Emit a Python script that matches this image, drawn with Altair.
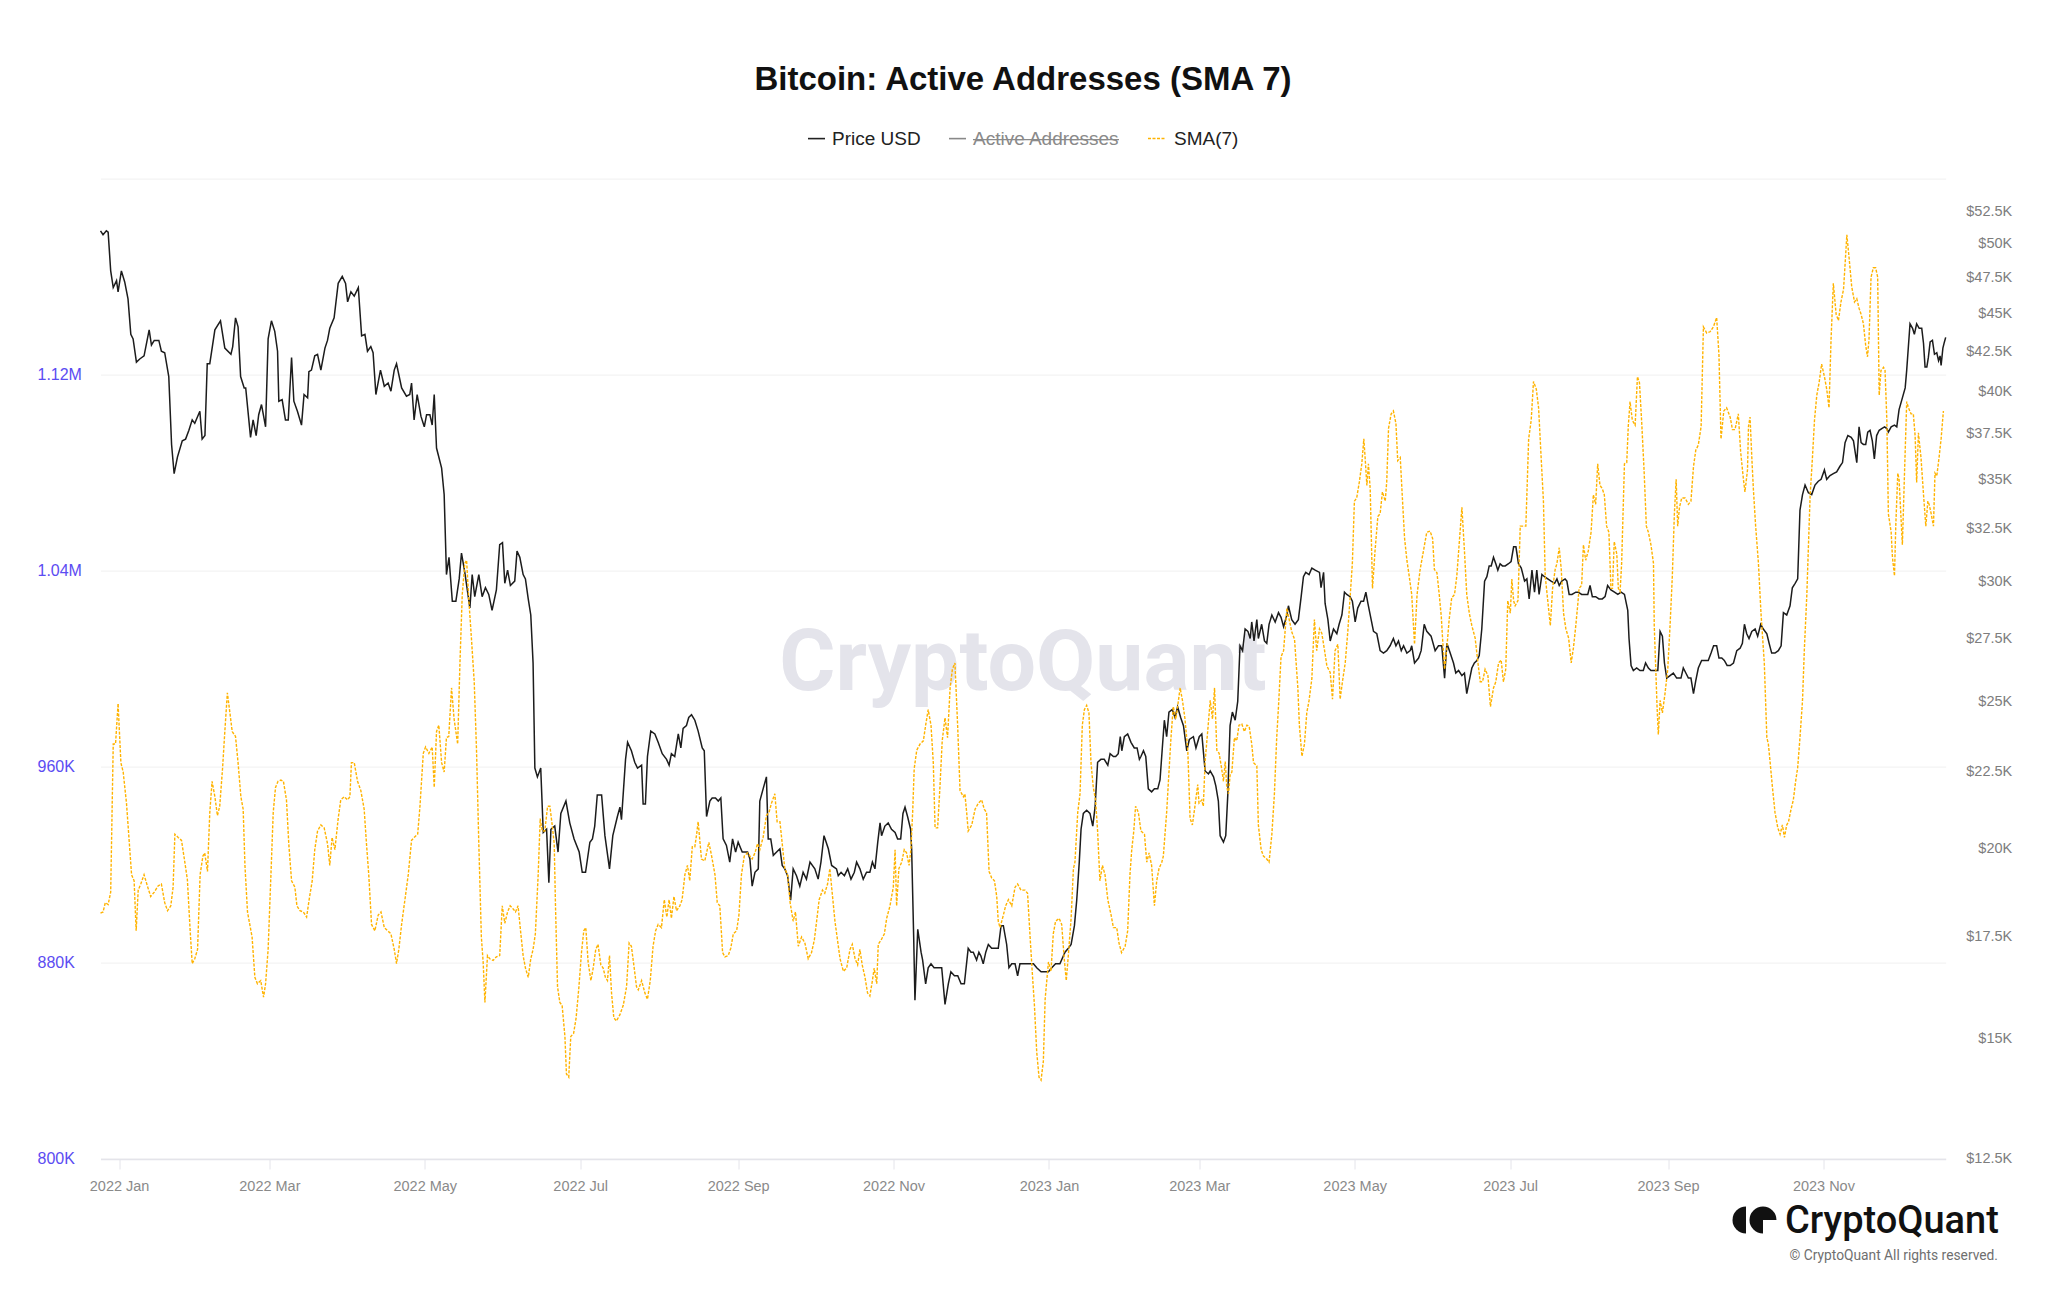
import altair as alt
import pandas as pd

# ---------------- data ----------------
# day offsets are days since 2022-01-01
price_day = [-7.3,-6.3,-5.0,-4.3,-3.3,-2.3,-1.0,-0.4,0.9,2.2,3.5,4.6,5.5,6.8,8.1,9.8,11.8,12.7,13.8,15.6,16.6,17.9,19.5,20.6,21.6,22.9,24.8,26.1,27.4,28.7,29.7,31.7,32.6,33.7,34.6,35.6,37.6,39.8,41.5,43.9,44.6,45.7,46.7,47.7,49.1,49.7,51.6,52.6,53.8,54.8,55.9,57.5,58.5,59.8,61.1,62.2,62.7,64.0,65.3,66.4,67.7,68.6,70.0,71.6,72.6,74.0,74.5,75.5,76.8,77.9,79.2,80.8,81.8,82.7,84.4,86.0,87.6,88.9,89.7,91.0,92.3,93.9,95.2,96.5,97.5,98.8,99.7,100.8,102.6,104.1,105.6,106.7,108.0,108.9,110.9,112.8,114.1,114.8,115.8,117.0,118.5,119.8,120.7,122.0,122.9,123.7,124.6,126.6,127.6,128.5,129.5,130.8,132.2,133.5,134.4,
135.7,137.7,138.6,139.6,141.2,142.5,143.8,145.1,146.4,148.1,149.4,150.5,151.4,152.5,153.6,155.3,156.2,157.3,158.6,159.5,160.6,161.6,162.5,163.2,164.2,165.5,166.5,167.8,168.7,169.5,171.0,172.3,173.4,175.4,176.9,178.6,180.6,181.8,183.1,184.8,185.8,186.7,187.7,189.4,190.7,192.5,193.8,195.6,196.6,197.2,198.8,199.6,201.1,202.4,203.5,205.1,205.7,206.6,207.4,208.7,210.3,211.6,213.2,214.9,215.9,216.8,218.1,219.5,220.5,221.4,222.7,223.6,224.7,226.0,227.3,228.9,229.7,230.6,231.9,232.8,234.1,235.2,236.2,237.1,238.4,239.7,240.8,242.0,243.0,244.6,246.7,247.6,248.5,249.6,250.9,251.5,252.8,254.1,254.8,255.8,256.8,258.1,259.4,260.3,261.3,262.4,263.6,264.6,265.9,267.2,268.5,269.8,271.2,273.1,274.4,275.5,276.7,278.4,279.7,281.6,
282.3,283.4,284.7,286.0,287.3,288.6,289.5,290.8,292.1,293.4,294.7,295.7,296.7,297.8,298.7,299.3,300.6,301.9,303.2,304.6,305.6,306.8,307.7,308.5,309.5,310.7,311.1,311.9,312.4,313.5,314.8,315.4,316.6,317.6,318.7,319.9,321.6,322.9,324.2,325.5,326.5,327.9,329.2,330.5,331.8,333.3,334.4,335.3,336.6,337.5,338.3,339.2,340.2,341.2,342.5,343.8,345.1,346.2,347.1,348.4,349.3,350.4,351.7,352.7,353.6,354.9,356.9,358.9,360.2,361.9,363.2,364.8,366.1,367.6,369.3,371.3,372.6,373.7,375.0,375.9,376.9,377.6,378.5,379.8,381.1,382.2,383.1,384.1,385.4,386.7,388.1,389.0,390.3,391.2,392.2,393.0,393.6,394.6,395.9,397.2,398.5,399.6,400.5,401.1,402.1,403.0,404.0,405.3,406.4,407.7,408.6,409.5,410.3,411.2,412.1,413.4,414.5,415.5,416.7,417.8,419.1,420.1,421.7,422.7,424.0,425.0,426.3,427.6,
428.3,429.6,430.5,431.5,432.2,433.5,434.4,435.2,436.1,437.0,438.1,439.1,440.0,441.0,442.0,443.1,444.0,444.6,445.5,446.6,447.2,448.5,449.6,450.5,451.4,452.5,453.8,455.1,456.1,457.1,458.4,459.0,460.3,461.6,462.9,464.0,464.9,465.8,467.1,468.2,469.5,471.2,471.8,472.8,473.4,474.5,475.4,476.7,478.0,478.9,480.0,481.0,481.9,483.2,484.1,485.2,486.2,487.5,488.5,489.4,490.2,491.1,492.4,493.7,495.0,496.3,497.6,498.9,500.2,501.2,502.2,503.3,504.2,505.5,506.8,507.4,508.5,510.1,511.1,512.3,513.3,515.0,516.6,517.9,519.2,520.3,521.2,522.5,523.8,524.7,525.8,527.1,528.1,529.0,530.0,531.0,532.0,533.0,533.9,534.9,536.0,536.9,537.8,538.6,539.5,540.4,541.2,542.1,543.0,544.1,545.4,546.4,547.4,548.3,549.3,550.4,551.7,552.6,553.5,554.6,555.6,556.5,557.4,558.5,559.5,560.8,562.1,563.5,564.4,565.3,566.3,567.6,568.3,569.2,570.3,571.8,
572.8,574.1,575.7,576.5,577.4,578.3,579.6,580.9,582.2,583.3,584.3,585.6,587.0,588.3,589.6,590.9,592.2,592.7,593.5,594.4,595.7,597.0,598.3,599.2,600.3,601.3,602.6,604.0,604.9,605.8,606.6,607.5,608.8,610.1,611.4,613.1,614.0,615.0,616.0,617.0,618.0,618.9,619.9,621.2,622.5,623.8,624.9,625.9,627.1,628.0,629.1,630.1,631.2,632.4,633.7,635.0,636.3,637.2,638.0,638.9,639.8,640.9,642.2,643.2,644.4,645.4,646.8,647.7,648.7,650.0,651.3,652.4,653.3,654.6,655.9,656.8,657.9,658.9,659.8,660.8,661.8,663.1,664.4,665.7,667.0,668.1,669.4,670.3,671.6,672.9,674.2,675.5,676.5,677.5,678.6,679.9,680.8,682.1,683.0,683.8,684.7,685.6,686.4,687.3,688.2,689.0,689.9,690.9,691.9,693.0,693.9,694.5,695.6,696.9,697.8,698.7,700.0,701.1,701.7,702.4,703.0,704.0,704.7,705.6,706.6,707.6,708.3,708.9,709.6,710.2,710.9,711.8,712.6,713.5,714.2,714.8,715.2,715.9,716.5,717.0]

price_k = [51.0,50.7,51.0,50.9,48.0,46.8,47.3,46.5,48.0,47.2,46.0,43.6,43.3,41.8,42.0,42.2,43.9,42.9,43.2,43.2,42.5,42.4,40.9,36.9,35.3,36.2,37.1,37.2,37.7,38.3,38.1,38.8,37.2,37.4,41.7,41.7,43.9,44.5,42.7,42.3,42.8,44.7,44.1,40.9,40.2,40.2,37.3,38.3,37.4,38.6,39.2,37.9,43.3,44.5,43.8,42.5,39.4,39.5,38.3,38.3,42.1,39.4,38.8,38.0,39.8,39.6,41.2,41.3,42.2,42.3,41.3,42.7,43.2,44.0,44.7,47.1,47.6,47.1,45.8,46.5,46.2,46.8,43.5,43.6,42.5,42.8,42.4,39.8,41.3,40.3,40.5,40.0,41.3,41.7,40.2,39.7,39.8,40.5,38.3,39.8,38.5,37.9,38.6,38.6,38.0,39.8,36.7,35.6,34.2,30.3,31.1,29.1,29.1,30.1,31.3,
30.4,28.8,30.3,29.3,30.3,29.3,29.7,29.4,28.7,29.6,31.7,31.8,29.9,30.5,29.8,30.0,31.4,31.1,30.3,30.1,29.2,28.5,26.5,22.6,22.3,22.6,20.5,20.6,19.0,20.6,20.7,19.9,21.1,21.5,20.8,20.3,19.9,19.3,19.3,20.2,20.3,20.7,21.7,21.7,20.4,19.4,20.4,21.0,21.3,20.9,22.9,23.5,23.2,22.8,22.6,22.7,21.4,21.4,23.0,23.9,23.8,23.5,23.1,22.9,22.7,23.1,23.0,23.8,23.3,24.0,24.1,24.4,24.5,24.3,23.9,23.3,23.2,21.0,21.5,21.6,21.6,21.5,21.6,20.3,20.1,19.6,20.3,19.9,20.2,19.9,19.9,19.7,18.9,19.3,19.4,21.5,21.9,22.3,20.3,20.3,19.8,19.9,20.0,19.5,19.4,19.2,18.5,19.4,19.2,18.9,19.3,19.1,19.6,19.4,19.1,19.6,20.4,20.0,19.5,19.4,
19.2,19.3,19.2,19.4,19.1,19.3,19.6,19.4,19.1,19.3,19.3,19.6,19.4,20.2,20.8,20.4,20.7,20.8,20.6,20.5,20.3,20.3,21.1,21.3,21.0,20.6,20.0,17.5,15.9,17.7,17.1,16.9,16.3,16.7,16.8,16.7,16.7,16.7,15.8,16.3,16.6,16.5,16.5,16.3,16.3,17.2,17.1,17.1,16.9,17.1,17.0,16.8,17.1,17.3,17.2,17.2,17.2,17.8,17.8,17.3,16.7,16.8,16.8,16.5,16.8,16.8,16.8,16.8,16.7,16.6,16.6,16.6,16.7,16.8,16.8,17.1,17.2,17.3,17.8,18.5,19.6,20.6,21.1,21.2,21.1,20.7,21.3,22.8,22.9,22.9,22.7,23.1,23.0,23.0,23.1,23.7,23.2,23.7,23.8,23.5,23.3,23.3,22.9,23.0,23.2,23.0,21.9,21.8,21.9,21.9,22.2,23.3,24.3,23.7,24.6,24.7,24.4,24.8,24.4,24.1,23.2,23.6,23.7,23.3,23.7,23.8,22.5,22.4,
22.5,22.3,22.0,21.5,20.4,20.2,20.4,21.7,24.1,24.6,24.3,25.0,27.2,27.0,27.9,27.8,27.5,28.2,27.4,28.3,27.5,28.1,27.4,27.3,28.1,28.5,28.2,28.6,28.4,28.0,28.5,28.9,28.3,28.1,28.3,29.3,30.2,30.4,30.3,30.6,30.5,30.4,29.7,30.4,29.0,28.3,27.4,27.9,27.7,28.1,28.5,29.5,29.4,29.3,29.1,28.2,28.8,29.1,29.1,29.5,29.0,28.5,27.8,27.7,27.0,26.9,27.0,27.2,27.5,27.2,27.4,27.0,27.2,26.9,27.0,27.2,26.5,26.7,27.0,28.1,27.8,27.6,27.0,27.2,27.2,25.9,27.3,26.9,26.5,26.1,26.2,26.0,26.1,25.3,25.8,26.3,26.5,26.6,26.8,27.9,30.0,30.2,30.7,30.7,31.1,30.8,30.5,30.8,30.7,30.7,30.8,30.9,31.6,31.6,30.8,30.6,30.0,30.1,29.2,30.5,29.5,30.5,29.4,30.3,30.2,30.1,30.0,29.9,30.1,29.8,30.0,30.1,30.0,29.4,29.4,29.5,
29.5,29.4,29.4,29.4,29.8,29.3,29.3,29.2,29.2,29.3,29.8,29.6,29.5,29.4,29.5,29.4,28.7,27.5,26.4,26.2,26.3,26.2,26.2,26.5,26.3,26.2,26.2,26.2,27.8,27.6,26.5,25.9,26.0,26.1,25.9,25.9,26.3,26.1,25.9,25.9,25.3,25.8,26.3,26.6,26.6,26.6,26.9,27.2,27.2,26.7,26.7,26.6,26.4,26.4,26.5,27.0,27.1,27.3,28.1,27.7,27.5,27.8,27.9,27.6,28.1,27.9,27.7,27.3,26.9,26.9,27.0,27.2,28.6,28.5,28.9,29.7,29.9,30.1,33.4,34.2,34.7,34.3,34.2,34.7,34.9,35.0,35.5,35.0,35.2,35.3,35.4,35.7,35.9,37.0,37.4,37.3,37.1,35.9,37.9,37.0,36.9,36.9,37.6,37.7,37.1,36.1,37.4,37.7,37.8,37.9,37.8,37.6,37.9,38.0,37.9,38.9,39.6,40.2,41.3,42.9,44.3,44.0,43.6,44.3,44.0,44.0,43.0,41.5,41.5,42.1,43.1,43.2,42.3,42.4,41.9,42.2,41.6,42.7,43.1,43.4]

sma_day = [-7.3,-6.3,-5.4,-4.3,-3.3,-2.3,-1.4,-0.4,0.7,1.6,2.9,4.2,4.9,5.9,6.7,7.5,8.5,9.8,11.1,12.4,13.8,15.3,16.6,17.9,19.0,20.3,21.2,21.9,23.2,24.5,25.8,26.8,27.9,28.7,29.7,30.8,31.8,32.9,33.6,34.7,35.6,36.5,37.6,38.6,39.5,40.6,41.5,42.5,43.5,44.4,45.7,46.7,47.8,48.7,49.4,50.4,51.3,52.2,53.3,54.3,55.6,56.7,57.5,58.5,59.6,60.5,61.4,62.4,63.5,64.5,65.7,66.6,67.7,69.0,69.8,71.0,72.3,73.6,74.6,75.8,76.8,77.9,79.2,80.5,81.8,82.7,83.6,84.7,86.0,87.0,88.4,89.7,90.6,91.2,92.3,93.6,94.9,96.2,97.1,98.0,99.1,100.4,101.7,102.8,104.1,105.4,106.7,108.0,108.9,109.8,110.9,112.2,113.5,114.8,115.8,117.2,118.1,119.4,120.3,121.6,122.9,123.7,124.6,125.5,126.6,127.6,128.5,129.4,130.5,131.5,132.9,133.8,134.7,
135.7,136.4,137.3,138.3,139.4,140.3,141.2,142.2,142.9,143.6,144.6,145.5,146.8,148.1,149.4,150.4,151.4,152.5,153.5,154.7,155.6,156.6,157.7,158.6,159.5,160.6,161.6,162.5,163.4,164.5,165.3,166.1,167.1,168.2,169.1,170.0,170.8,171.3,172.1,173.0,173.9,175.0,175.6,176.5,177.3,178.4,179.4,180.5,181.5,182.4,183.2,184.1,185.2,186.1,187.1,188.0,189.1,190.0,190.9,191.7,192.5,193.3,194.2,195.2,196.6,197.9,199.2,200.2,201.1,202.2,203.1,203.8,205.1,206.4,207.4,208.5,209.6,210.6,211.6,212.9,214.0,215.0,215.9,216.8,217.8,218.8,220.1,221.0,222.1,223.1,224.0,225.0,226.0,226.7,227.3,228.6,229.9,231.5,232.5,233.9,234.8,235.8,236.9,237.8,239.1,240.1,241.1,242.4,243.3,244.3,245.4,246.7,247.6,248.5,249.6,250.6,251.5,252.8,254.1,255.1,256.1,257.4,258.3,259.4,260.3,261.3,262.4,263.4,264.6,265.5,266.6,267.9,269.2,270.5,271.8,272.9,273.8,274.8,276.1,277.0,278.1,279.0,279.7,281.0,
282.0,283.0,284.3,285.6,286.9,287.8,288.9,289.9,290.8,291.7,292.8,293.8,294.7,295.7,296.4,297.4,298.0,299.1,300.4,301.3,302.6,303.9,304.6,305.2,306.1,307.2,308.2,309.1,310.1,310.8,311.5,312.1,313.1,314.4,315.7,316.6,317.6,318.7,319.6,320.3,321.3,322.2,323.1,324.2,325.2,326.2,327.1,328.1,329.2,330.1,331.4,332.0,332.7,333.3,334.7,336.0,337.3,338.6,339.6,340.5,341.5,342.5,343.6,344.5,345.1,345.8,347.1,348.0,349.1,350.4,351.7,352.7,354.0,355.6,356.6,357.6,358.5,359.3,360.2,361.1,361.9,362.8,363.5,364.8,365.8,366.7,367.6,369.0,370.0,371.0,371.8,372.6,373.7,374.6,375.2,376.3,377.2,378.1,378.9,379.8,380.7,381.5,382.4,383.3,384.1,385.0,386.0,387.0,388.1,389.4,390.3,391.6,392.5,393.5,394.9,395.9,396.8,397.5,398.3,399.0,400.1,401.1,402.5,403.4,404.3,405.3,406.4,407.3,408.2,409.3,409.9,411.2,411.9,412.9,413.8,414.8,415.5,416.5,417.4,418.4,419.5,420.4,421.3,422.3,423.4,423.9,425.0,425.6,426.3,
427.3,428.3,429.2,430.0,430.9,431.8,432.8,433.5,434.2,434.8,435.5,436.1,436.8,437.8,438.7,439.6,440.7,441.7,442.7,443.6,444.6,445.3,446.6,447.2,448.3,449.2,450.5,451.4,452.5,453.5,454.4,455.1,456.1,457.1,458.4,459.3,460.3,461.4,462.7,463.3,464.3,465.3,466.2,467.1,468.2,469.2,470.1,471.2,472.1,473.2,474.1,475.4,476.3,477.3,478.4,479.3,480.2,481.3,482.3,483.2,484.1,484.9,485.8,486.8,487.8,488.6,489.1,489.8,490.4,491.1,492.0,493.0,494.1,495.0,495.9,497.0,497.6,498.3,499.3,500.2,501.2,501.9,502.9,503.8,504.6,505.5,506.4,507.4,508.5,509.5,510.7,512.0,513.3,514.6,515.6,516.3,517.3,518.2,519.0,519.5,520.3,521.2,522.1,523.1,524.2,525.1,526.0,527.1,528.1,529.0,530.0,531.0,532.3,533.4,534.3,535.2,536.2,537.3,538.3,539.5,540.4,541.5,542.5,543.4,544.3,545.1,546.1,546.7,547.4,548.0,549.1,550.0,550.9,552.2,553.3,554.3,555.2,556.3,557.2,558.2,559.1,559.8,560.8,561.8,562.7,563.7,564.4,565.3,566.1,567.0,567.9,569.0,570.0,570.9,571.8,572.6,
573.1,574.1,574.8,575.7,576.7,577.8,578.7,579.6,580.4,581.3,582.2,583.0,583.9,584.8,585.6,586.2,586.9,587.9,588.5,589.2,589.8,590.9,591.8,592.4,593.1,594.0,595.1,596.0,596.8,597.7,598.6,599.5,600.3,601.3,602.3,602.6,603.2,603.7,604.2,604.9,605.8,606.8,607.9,608.8,609.7,610.5,611.2,611.8,612.5,613.4,614.7,616.0,617.0,618.0,618.9,619.9,621.0,621.9,623.2,624.5,625.8,627.1,628.0,628.8,629.9,631.0,632.4,633.3,634.3,635.6,636.5,637.6,638.2,639.2,639.6,640.2,640.9,641.5,642.4,643.5,644.5,645.8,646.8,647.4,648.1,649.0,650.0,651.1,652.0,652.9,653.7,654.6,655.3,656.3,657.2,658.1,658.9,659.8,660.8,661.5,662.5,663.1,663.8,664.7,665.5,666.4,667.3,668.3,669.4,670.3,671.2,672.0,672.9,674.0,674.9,675.9,676.9,677.8,678.2,679.1,680.1,681.2,682.1,683.0,683.8,684.7,685.6,686.3,686.9,687.7,688.6,689.5,690.3,690.9,691.6,692.6,693.2,693.9,694.5,695.6,696.1,696.9,697.4,698.2,698.7,699.5,700.0,700.8,701.7,702.4,703.4,704.3,705.0,705.6,706.3,707.3,708.3,709.2,710.0,710.5,711.3,712.2,712.8,713.5,714.4,715.2,716.1]

sma_k = [900.3,900.8,904.6,903.8,908.9,969.3,969.3,985.8,961.7,957.9,945.2,926.2,916.0,913.5,893.1,909.7,912.2,916.0,911.4,907.1,908.9,911.4,912.2,904.6,901.3,903.3,910.9,932.5,931.2,930.0,921.1,914.0,893.1,879.7,881.7,885.5,916.0,923.6,924.9,917.3,941.4,954.1,947.8,940.1,943.9,959.2,974.4,990.2,982.0,974.4,972.4,961.7,947.8,942.7,919.8,900.8,895.7,890.6,874.1,871.5,872.8,866.0,871.5,885.5,916.0,941.4,951.6,954.1,954.6,954.1,946.5,928.7,913.5,910.9,903.3,901.3,900.8,898.7,905.8,913.5,926.2,933.8,936.3,935.1,928.7,919.8,931.2,926.2,938.9,946.5,947.8,946.5,947.8,961.7,961.7,954.1,950.3,942.7,928.7,916.0,895.7,893.1,899.5,900.8,894.4,893.1,891.9,885.5,879.7,885.5,895.7,905.8,916.0,930.0,931.2,932.5,943.9,965.5,968.1,965.5,968.1,951.6,974.4,977.0,961.7,957.9,971.9,972.4,992.2,979.5,969.3,1002.4,1030.3,
1043.0,1044.3,1027.8,1012.5,994.7,966.8,928.7,890.6,880.4,863.9,883.0,881.7,881.0,882.5,883.0,903.3,896.2,900.8,903.3,902.0,900.8,903.3,891.9,883.0,877.9,874.1,881.7,885.5,891.9,916.0,938.9,933.8,933.8,943.9,943.9,936.3,928.7,903.3,870.3,863.9,862.7,850.0,834.7,833.4,850.0,851.2,857.6,870.3,884.2,893.1,894.4,880.4,872.8,877.9,885.5,887.6,879.2,877.9,874.1,872.8,883.0,867.7,857.6,856.3,858.9,862.7,870.3,888.1,886.8,877.9,870.3,869.0,872.8,867.7,865.2,872.8,886.8,893.1,895.7,894.4,905.8,898.7,905.8,898.2,907.1,901.3,903.3,905.8,916.0,919.8,913.5,927.4,927.4,932.5,937.6,922.4,921.6,929.2,924.1,916.0,904.6,903.3,884.2,882.5,883.0,886.0,891.9,893.1,899.5,916.0,923.6,924.9,923.6,922.4,924.9,928.7,926.2,931.2,940.1,941.4,945.2,949.0,937.6,937.6,928.7,918.5,916.0,904.6,897.0,900.8,886.8,890.6,888.1,881.7,884.2,889.3,897.0,905.8,909.7,908.4,912.2,918.5,910.9,897.0,
889.3,881.7,876.6,877.9,885.5,887.6,881.7,879.2,885.5,879.2,874.1,867.7,866.5,872.8,877.9,871.5,887.6,889.3,891.9,898.2,903.3,910.9,926.2,903.3,918.5,921.1,926.2,924.9,919.8,926.2,941.4,959.2,966.8,969.3,970.6,977.0,983.3,977.0,961.7,935.1,935.1,951.6,970.6,980.0,971.9,992.2,999.8,1002.4,975.7,950.3,947.8,949.0,941.4,933.8,936.3,942.7,945.2,946.5,942.7,941.4,917.3,914.7,913.5,907.1,897.0,894.4,899.5,903.3,905.8,903.3,910.9,912.2,909.7,909.7,908.4,890.6,875.4,862.7,843.6,833.4,832.2,839.8,865.2,880.4,876.6,891.9,897.0,898.2,895.7,881.7,872.8,883.0,898.2,918.5,921.1,941.4,949.0,977.0,983.3,985.1,982.0,961.7,951.6,946.5,933.8,913.5,919.8,916.0,905.8,899.5,894.4,894.4,888.1,884.2,886.8,893.1,916.0,926.2,933.8,943.9,941.4,933.8,932.5,921.1,924.9,919.8,903.3,913.5,918.5,921.1,923.6,941.4,954.1,971.9,984.6,979.5,984.6,992.2,987.1,979.5,966.8,938.9,936.3,943.9,952.8,945.2,946.5,943.9,962.2,
974.4,987.1,979.5,992.2,966.8,965.5,959.2,954.1,962.2,951.6,949.0,956.6,957.9,971.9,970.6,977.0,977.5,974.4,977.0,976.5,969.3,961.7,960.4,936.3,926.2,923.6,922.4,921.1,932.5,949.0,971.9,984.6,1004.9,1007.4,1024.7,1020.1,1015.1,1012.0,992.2,977.0,964.3,969.3,982.0,987.1,996.0,1020.1,1007.4,1016.3,1014.5,1007.4,1001.1,998.5,987.6,1007.4,1010.0,987.6,994.7,1002.4,1015.1,1029.0,1043.0,1068.4,1069.7,1076.0,1083.6,1093.8,1086.2,1074.8,1083.6,1073.5,1032.8,1048.1,1062.1,1063.3,1072.2,1068.4,1076.5,1098.1,1103.9,1105.2,1100.1,1084.9,1086.2,1068.4,1053.2,1044.3,1037.9,1030.3,1010.0,1030.3,1040.5,1048.1,1055.7,1056.2,1053.2,1040.5,1039.2,1030.3,1021.4,1012.5,999.8,1008.7,1020.1,1029.0,1030.3,1037.9,1050.6,1065.9,1048.1,1030.3,1022.7,1017.6,1012.5,1002.4,994.7,994.7,999.8,997.3,984.6,992.2,994.7,1002.4,1003.6,994.7,999.8,1027.8,1022.7,1036.6,1027.8,1025.7,1027.8,1058.2,1058.2,1058.2,1093.8,1101.4,1117.2,1114.1,1106.5,1086.2,1068.4,1037.9,1027.8,1017.6,1032.8,1040.5,1043.0,1049.4,1040.5,1022.7,1016.3,1012.5,1002.4,1008.7,1017.6,1026.5,
1032.8,1034.1,1050.6,1044.3,1048.1,1055.7,1071.0,1067.1,1083.6,1074.8,1073.5,1071.0,1058.2,1055.7,1032.8,1032.8,1051.9,1046.8,1032.8,1031.6,1043.0,1083.6,1084.1,1098.9,1109.0,1101.4,1099.4,1119.2,1116.7,1100.1,1081.1,1058.2,1055.7,1050.6,1043.0,1017.6,999.8,984.6,973.2,987.1,982.0,989.7,999.8,1017.6,1037.9,1063.3,1077.3,1058.2,1065.9,1069.7,1069.7,1067.1,1068.4,1082.4,1089.2,1091.3,1098.9,1139.5,1137.0,1137.5,1139.5,1143.3,1128.1,1093.8,1105.2,1106.5,1102.7,1097.6,1097.6,1104.0,1088.7,1077.3,1072.2,1081.1,1098.9,1102.7,1086.2,1073.5,1058.2,1043.0,1022.7,1002.4,971.9,969.3,961.7,951.6,941.4,935.1,932.5,936.3,931.2,936.3,937.6,942.7,946.5,954.1,959.7,971.9,987.1,1007.4,1030.3,1049.4,1071.0,1086.2,1101.4,1111.6,1116.7,1124.3,1119.2,1114.1,1106.5,1134.4,1157.3,1144.6,1142.1,1149.7,1154.8,1170.0,1177.1,1167.5,1156.0,1149.7,1151.0,1147.1,1144.6,1140.8,1131.9,1127.3,1134.4,1159.8,1163.6,1163.6,1159.8,1111.6,1121.7,1123.0,1121.7,1101.4,1063.3,1055.7,1045.5,1037.9,1058.2,1079.8,1077.3,1060.8,1050.6,1078.6,1109.0,1106.5,1104.0,1104.0,1095.1,1076.0,1096.3,1086.2,1071.0,1058.2,1068.4,1067.1,1063.3,1058.2,1079.8,1078.6,1086.2,1093.8,1105.2]

x_tick_months = [(2022, 1), (2022, 3), (2022, 5), (2022, 7), (2022, 9), (2022, 11),
                 (2023, 1), (2023, 3), (2023, 5), (2023, 7), (2023, 9), (2023, 11)]
aa_ticks = [800000, 880000, 960000, 1040000, 1120000, 1200000]
price_ticks = [12500, 15000, 17500, 20000, 22500, 25000, 27500, 30000, 32500,
               35000, 37500, 40000, 42500, 45000, 47500, 50000, 52500]

title_text = "Bitcoin: Active Addresses (SMA 7)"
legend_labels = ["Price USD", "Active Addresses", "SMA(7)"]

# ---------------- tables ----------------
base = pd.Timestamp("2022-01-01")
price_df = pd.DataFrame({
    "date": [base + pd.Timedelta(days=d) for d in price_day],
    "price": [v * 1000 for v in price_k],
})
sma_df = pd.DataFrame({
    "date": [base + pd.Timedelta(days=d) for d in sma_day],
    "sma": [v * 1000 for v in sma_k],
})

W, H = 1845.2, 980.4
FONT = "Liberation Sans"
SMA_COLOR = "#FFB300"
PRICE_COLOR = "#1c1c1c"

x_scale = alt.Scale(domain=[alt.DateTime(year=2021, month=12, date=24, hours=16, minutes=48),
                            alt.DateTime(year=2023, month=12, date=19)])
x_axis = alt.Axis(
    values=[alt.DateTime(year=y, month=m, date=1) for y, m in x_tick_months],
    format="%Y %b", title=None, grid=False,
    domainColor="#e4e4ea", domainWidth=1.5, tickColor="#e4e4ea", tickSize=10, tickWidth=1,
    labelColor="#8a8a8a", labelFontSize=14.5, labelFont=FONT, labelPadding=10.5,
)

sma_line = alt.Chart(sma_df).mark_line(
    color=SMA_COLOR, strokeWidth=1.4, strokeDash=[3, 1.5], interpolate="linear"
).encode(
    x=alt.X("date:T", scale=x_scale, axis=x_axis),
    y=alt.Y("sma:Q", scale=alt.Scale(domain=[800000, 1200000], nice=False, zero=False),
            axis=alt.Axis(orient="left", values=aa_ticks, title=None, grid=True,
                          gridColor="#f0f0f0", gridWidth=1, domain=False, ticks=False, tickSize=0,
                          labelAlign="left", labelBaseline="middle", labelPadding=63.5,
                          labelColor="#5b4cf2", labelFontSize=16, labelFont=FONT,
                          labelExpr="datum.value >= 1200000 ? '' : (datum.value >= 1000000 ? format(datum.value/1000000, '.2f') + 'M' : format(datum.value/1000, 'd') + 'K')")),
)

price_line = alt.Chart(price_df).mark_line(
    color=PRICE_COLOR, strokeWidth=1.5, interpolate="linear"
).encode(
    x=alt.X("date:T", scale=x_scale, axis=x_axis),
    y=alt.Y("price:Q", scale=alt.Scale(type="log", domain=[12500, 55200], nice=False),
            axis=alt.Axis(orient="right", values=price_ticks, title=None, grid=False,
                          domain=False, ticks=False, tickSize=0,
                          labelAlign="right", labelBaseline="middle", labelPadding=66,
                          labelColor="#7d7d7d", labelFontSize=14.5, labelFont=FONT,
                          labelExpr="'$' + format(datum.value/1000, '.1~f') + 'K'")),
)

one = pd.DataFrame({"k": [0]})

def txt(text, x, y, size, color, align="left", weight="normal", baseline="middle", font=FONT):
    return alt.Chart(one).mark_text(
        text=text, align=align, baseline=baseline, fontSize=size, color=color,
        fontWeight=weight, font=font
    ).encode(x=alt.value(x), y=alt.value(y))

def hrule(x1, x2, y, color, width=1.5, dash=None):
    kw = dict(color=color, strokeWidth=width)
    if dash:
        kw["strokeDash"] = dash
    return alt.Chart(one).mark_rule(**kw).encode(x=alt.value(x1), x2=alt.value(x2), y=alt.value(y))

watermark = txt("CryptoQuant", 922.5, 511.4, 86, "#e4e4eb", align="center",
                weight="bold", baseline="alphabetic", font="Roboto")

title = txt(title_text, 922.5, -98.8, 33, "#111111", align="center", weight="bold")

LY = -40.0
legend = [
    hrule(707.5, 724.5, LY, "#222222", 1.6),
    txt(legend_labels[0], 731.5, LY, 19, "#222222"),
    hrule(848.5, 865.5, LY, "#888888", 1.6),
    txt(legend_labels[1], 872.5, LY, 19, "#8a8a8a"),
    hrule(872.5, 1018.5, LY + 1, "#8a8a8a", 1.3),
    hrule(1047.5, 1065.5, LY, SMA_COLOR, 1.5, [3, 1.5]),
    txt(legend_labels[2], 1073.5, LY, 19, "#222222"),
]

logo_left = alt.Chart(one).mark_arc(
    x=1645.5, y=1041.4, radius=13.5, theta=3.1416, theta2=6.2832, color="#111111"
).encode(color=alt.value("#111111"))
logo_right = alt.Chart(one).mark_arc(
    x=1662.5, y=1041.4, radius=13.5, theta=3.1416, theta2=7.854, color="#111111"
).encode(color=alt.value("#111111"))
logo_text = txt("CryptoQuant", 1684.5, 1054.5, 38, "#111111", weight=500,
                baseline="alphabetic", font="Roboto")
copyright_text = txt("\u00a9 CryptoQuant All rights reserved.", 1897.5, 1081.5, 13.8, "#6f6f6f",
                     align="right", baseline="alphabetic", font="Roboto")

chart = alt.layer(
    watermark, price_line, sma_line, title, *legend,
    logo_left, logo_right, logo_text, copyright_text,
).resolve_scale(y="independent").properties(
    width=W, height=H,
    autosize=alt.AutoSizeParams(type="none"),
    padding={"left": 92.5, "top": 170.6, "right": 94, "bottom": 118},
    background="white",
).configure_view(stroke=None)

chart.save("out.html", embed_options={"renderer": "svg", "actions": False})
